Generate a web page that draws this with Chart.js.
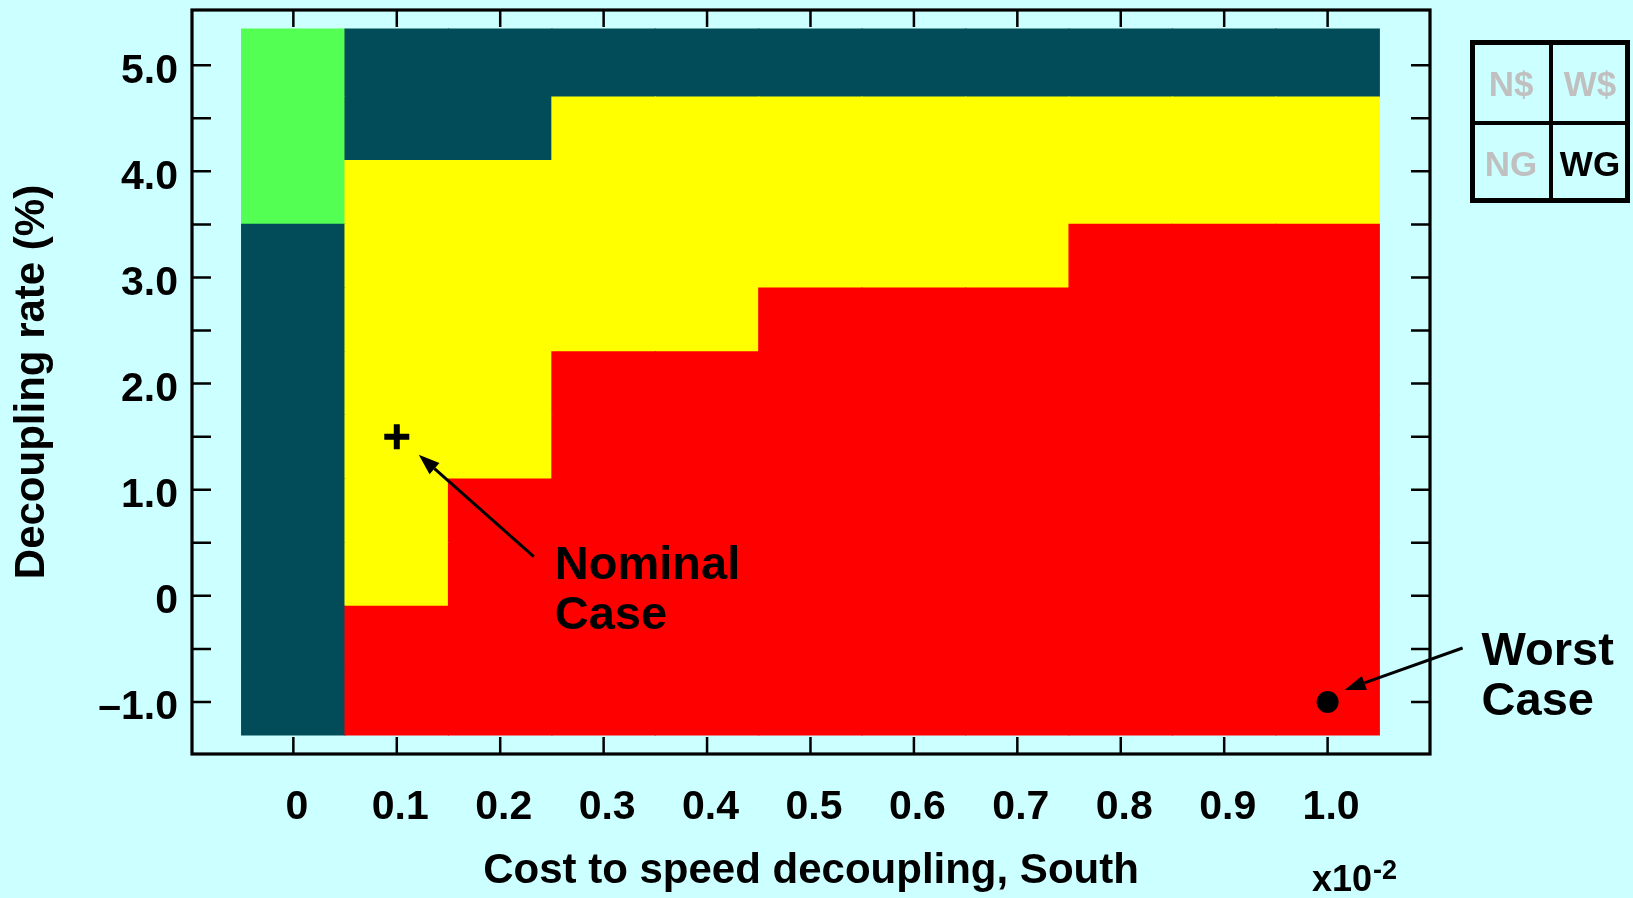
<!DOCTYPE html>
<html>
<head>
<meta charset="utf-8">
<script src="https://cdn.jsdelivr.net/npm/chart.js@4.4.1/dist/chart.umd.min.js"></script>
<style>
  html, body { margin: 0; padding: 0; background: #CCFFFF; }
  #wrap { width: 1633px; height: 898px; }
  canvas { display: block; }
</style>
</head>
<body>
<div id="wrap"><canvas id="chart" width="1633" height="898"></canvas></div>
<script>
// Cost to speed decoupling (x10^-2) for each grid column
const costValues = [0, 0.1, 0.2, 0.3, 0.4, 0.5, 0.6, 0.7, 0.8, 0.9, 1.0];
// Decoupling rate (%) bin edges of the grid rows, bottom first
const rateEdges = [-1.31, -0.7, -0.1, 0.5, 1.1, 1.7, 2.3, 2.9, 3.5, 4.1, 4.7, 5.34];
// Outcome class of each grid cell, one row per rate bin (bottom first)
// 0 = dark teal, 1 = green, 2 = yellow, 3 = red
const outcomeRows = [
  [0, 3, 3, 3, 3, 3, 3, 3, 3, 3, 3],
  [0, 3, 3, 3, 3, 3, 3, 3, 3, 3, 3],
  [0, 2, 3, 3, 3, 3, 3, 3, 3, 3, 3],
  [0, 2, 3, 3, 3, 3, 3, 3, 3, 3, 3],
  [0, 2, 2, 3, 3, 3, 3, 3, 3, 3, 3],
  [0, 2, 2, 3, 3, 3, 3, 3, 3, 3, 3],
  [0, 2, 2, 2, 2, 3, 3, 3, 3, 3, 3],
  [0, 2, 2, 2, 2, 2, 2, 2, 3, 3, 3],
  [1, 2, 2, 2, 2, 2, 2, 2, 2, 2, 2],
  [1, 0, 0, 2, 2, 2, 2, 2, 2, 2, 2],
  [1, 0, 0, 0, 0, 0, 0, 0, 0, 0, 0]
];
const outcomeColors = ['#024C59', '#52FF52', '#FFFF00', '#FF0000'];

const xTickValues = [0, 0.1, 0.2, 0.3, 0.4, 0.5, 0.6, 0.7, 0.8, 0.9, 1.0];
const xTickLabels = ['0', '0.1', '0.2', '0.3', '0.4', '0.5', '0.6', '0.7', '0.8', '0.9', '1.0'];
const yTickValues = [-1, 0, 1, 2, 3, 4, 5];
const yTickLabels = ['\u20131.0', '0', '1.0', '2.0', '3.0', '4.0', '5.0'];

// Marked scenarios
const nominalCase = [{ x: 0.1, y: 1.5 }];
const worstCase = [{ x: 1.0, y: -1.0 }];

// 2x2 scenario key; the active one is drawn in black
const quadrantLabels = ['N$', 'W$', 'NG', 'WG'];
const activeQuadrant = 'WG';

const FONT = "'Liberation Sans', Arial, Helvetica, sans-serif";
const BG = '#CCFFFF';

const cellDatasets = outcomeRows.map((row, r) => ({
  type: 'bar',
  label: 'rate bin ' + r,
  data: costValues.map(cost => ({ x: cost, y: [rateEdges[r], rateEdges[r + 1]] })),
  backgroundColor: row.map(k => outcomeColors[k]),
  borderWidth: 0,
  inflateAmount: 0.6,
  barPercentage: 1,
  categoryPercentage: 1,
  grouped: false,
  order: 2
}));

const markerDatasets = [
  {
    type: 'scatter',
    label: 'Nominal Case',
    data: nominalCase,
    pointStyle: 'cross',
    radius: 12.5,
    borderWidth: 6,
    borderColor: '#000',
    backgroundColor: '#000',
    order: 1
  },
  {
    type: 'scatter',
    label: 'Worst Case',
    data: worstCase,
    pointStyle: 'circle',
    radius: 11,
    borderWidth: 0,
    backgroundColor: '#000',
    order: 1
  }
];

function arrow(ctx, x0, y0, x1, y1) {
  const ang = Math.atan2(y1 - y0, x1 - x0);
  const len = 21, half = 7.5;
  const bx = x1 - len * Math.cos(ang), by = y1 - len * Math.sin(ang);
  ctx.beginPath();
  ctx.moveTo(x0, y0);
  ctx.lineTo(bx, by);
  ctx.lineWidth = 3;
  ctx.strokeStyle = '#000';
  ctx.stroke();
  ctx.beginPath();
  ctx.moveTo(x1, y1);
  ctx.lineTo(bx + half * Math.sin(ang), by - half * Math.cos(ang));
  ctx.lineTo(bx - half * Math.sin(ang), by + half * Math.cos(ang));
  ctx.closePath();
  ctx.fillStyle = '#000';
  ctx.fill();
}

const framePlugin = {
  id: 'frame',
  beforeDraw(chart) {
    const ctx = chart.ctx;
    ctx.save();
    ctx.fillStyle = BG;
    ctx.fillRect(0, 0, chart.width, chart.height);
    ctx.restore();
  },
  afterDraw(chart) {
    const ctx = chart.ctx;
    const { left, right, top, bottom } = chart.chartArea;
    const xs = chart.scales.x, ys = chart.scales.y;
    ctx.save();

    // inward tick marks on all four sides
    ctx.strokeStyle = '#000';
    ctx.lineWidth = 2.5;
    ctx.beginPath();
    xTickValues.forEach(v => {
      const px = xs.getPixelForValue(v);
      ctx.moveTo(px, bottom); ctx.lineTo(px, bottom - 17);
      ctx.moveTo(px, top); ctx.lineTo(px, top + 17);
    });
    for (let i = 0; i < yTickValues.length; i++) {
      const vals = [yTickValues[i]];
      if (i < yTickValues.length - 1) vals.push((yTickValues[i] + yTickValues[i + 1]) / 2);
      vals.forEach(v => {
        const py = ys.getPixelForValue(v);
        ctx.moveTo(left, py); ctx.lineTo(left + 19, py);
        ctx.moveTo(right, py); ctx.lineTo(right - 19, py);
      });
    }
    ctx.stroke();

    // plot frame
    ctx.lineWidth = 3.2;
    ctx.strokeRect(left, top, right - left, bottom - top);

    // scenario annotations
    const nx = xs.getPixelForValue(nominalCase[0].x), ny = ys.getPixelForValue(nominalCase[0].y);
    const wx = xs.getPixelForValue(worstCase[0].x), wy = ys.getPixelForValue(worstCase[0].y);

    ctx.fillStyle = '#000';
    ctx.font = 'bold 47px ' + FONT;
    ctx.textAlign = 'left';
    ctx.textBaseline = 'alphabetic';
    const nLabelX = nx + 158, nLabelY = ny + 142;
    ctx.fillText('Nominal', nLabelX, nLabelY);
    ctx.fillText('Case', nLabelX, nLabelY + 50);
    arrow(ctx, nLabelX - 21, nLabelY - 22, nx + 22, ny + 18);

    const wLabelX = wx + 154, wLabelY = wy - 37;
    ctx.fillText('Worst', wLabelX, wLabelY);
    ctx.fillText('Case', wLabelX, wLabelY + 50);
    arrow(ctx, wLabelX - 19, wLabelY - 17, wx + 17, wy - 12);

    // axis multiplier
    ctx.font = 'bold 36px ' + FONT;
    ctx.fillText('x10', 1312, 891);
    const w10 = ctx.measureText('x10').width;
    ctx.font = 'bold 27px ' + FONT;
    ctx.fillText('-2', 1312 + w10 + 1, 879);

    // scenario key box
    const bx = right + 40, by = 40, bw = 160, bh = 163;
    ctx.lineWidth = 5;
    ctx.strokeRect(bx + 2.5, by + 2.5, bw - 5, bh - 5);
    ctx.lineWidth = 4;
    ctx.beginPath();
    ctx.moveTo(bx + 81, by); ctx.lineTo(bx + 81, by + bh);
    ctx.moveTo(bx, by + 83); ctx.lineTo(bx + bw, by + 83);
    ctx.stroke();
    ctx.font = 'bold 35px ' + FONT;
    ctx.textAlign = 'center';
    ctx.textBaseline = 'middle';
    const cx = [bx + 41, bx + 120], cy = [by + 44, by + 124];
    quadrantLabels.forEach((lab, i) => {
      ctx.fillStyle = lab === activeQuadrant ? '#000' : '#C0C0C0';
      ctx.fillText(lab, cx[i % 2], cy[Math.floor(i / 2)] + 2);
    });

    ctx.restore();
  }
};

const titleFont = { family: FONT, size: 42, weight: 'bold' };
const tickFont = { family: FONT, size: 41, weight: 'bold' };

new Chart(document.getElementById('chart'), {
  type: 'bar',
  data: { datasets: [...cellDatasets, ...markerDatasets] },
  options: {
    responsive: false,
    devicePixelRatio: 1,
    animation: false,
    layout: { autoPadding: false, padding: { left: 0, top: 10, right: 203, bottom: 0 } },
    plugins: { legend: { display: false }, tooltip: { enabled: false } },
    scales: {
      x: {
        type: 'linear',
        min: -0.098,
        max: 1.099,
        offset: false,
        grid: { display: false, drawTicks: false },
        border: { display: false },
        afterBuildTicks: s => { s.ticks = xTickValues.map(v => ({ value: v })); },
        afterFit: s => { s.height = 144; s.paddingLeft = 0; s.paddingRight = 0; },
        ticks: {
          autoSkip: false,
          maxRotation: 0,
          padding: 29,
          labelOffset: 3.5,
          color: '#000',
          font: tickFont,
          callback: (v, i) => xTickLabels[i]
        },
        title: {
          display: true,
          text: 'Cost to speed decoupling, South',
          color: '#000',
          font: titleFont,
          padding: { top: 0, bottom: 1 }
        }
      },
      y: {
        type: 'linear',
        min: -1.49,
        max: 5.52,
        grid: { display: false, drawTicks: false },
        border: { display: false },
        afterBuildTicks: s => { s.ticks = yTickValues.map(v => ({ value: v })); },
        afterFit: s => { s.width = 192; s.paddingTop = 0; s.paddingBottom = 0; },
        ticks: {
          autoSkip: false,
          padding: 14,
          labelOffset: 6,
          color: '#000',
          font: tickFont,
          callback: (v, i) => yTickLabels[i]
        },
        title: {
          display: true,
          text: 'Decoupling rate (%)',
          color: '#000',
          font: titleFont,
          padding: { top: 7, bottom: 0 }
        }
      }
    }
  },
  plugins: [framePlugin]
});
</script>
</body>
</html>
